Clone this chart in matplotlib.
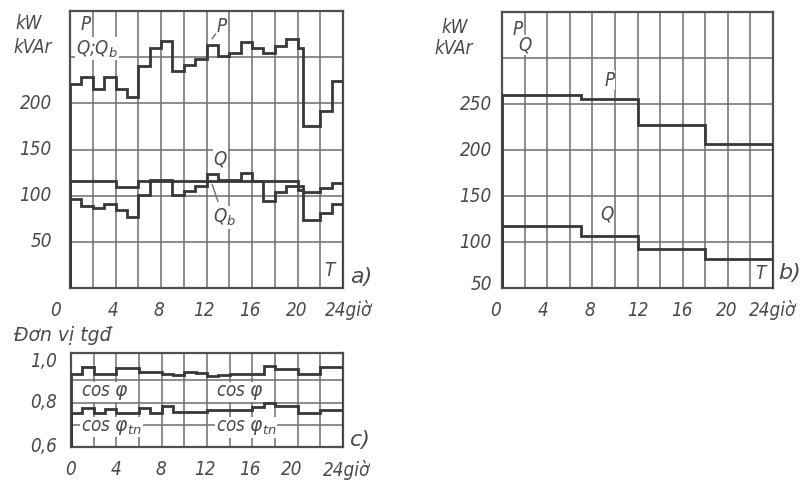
import matplotlib
matplotlib.use("Agg")
import matplotlib.pyplot as plt

# ---- data -------------------------------------------------------------
# a) hourly load of the workshop, with one extra break at 20.5 h
hours_a = [0, 1, 2, 3, 4, 5, 6, 7, 8, 9, 10, 11, 12, 13, 14, 15, 16, 17, 18, 19,
           20, 20.5, 22, 23, 24]
P_a = [221, 228, 215, 228, 215, 207, 240, 260, 267, 235, 242, 248,
       263, 251, 255, 266, 260, 254, 262, 270, 260, 175, 192, 224]
Q_a = [116, 116, 116, 116, 109, 109, 116, 116, 116, 116, 116, 116,
       123, 117, 117, 125, 116, 116, 116, 116, 110, 104, 108, 114]
Qb_a = [96, 89, 87, 91, 85, 77, 101, 117, 117, 101, 105, 110,
        116, 116, 116, 116, 116, 94, 104, 110, 106, 74, 81, 91]

# b) load by shift intervals
hours_b = [0, 7, 12, 18, 24]
P_b = [260, 255, 227, 206]
Q_b = [117, 107, 92, 81]

# c) power factor, hourly
hours_c = list(range(25))
cos_phi = [0.93, 0.96, 0.93, 0.93, 0.955, 0.955, 0.94, 0.94, 0.93, 0.925, 0.94, 0.935,
           0.92, 0.925, 0.93, 0.93, 0.93, 0.965, 0.95, 0.95, 0.93, 0.93, 0.96, 0.96]
cos_phi_tn = [0.755, 0.775, 0.755, 0.77, 0.755, 0.755, 0.775, 0.755, 0.785, 0.76, 0.76, 0.76,
              0.765, 0.765, 0.765, 0.765, 0.78, 0.80, 0.783, 0.783, 0.755, 0.755, 0.768, 0.768]

xlabels = ["0", "4", "8", "12", "16", "20", "24giờ"]

# ---- style ------------------------------------------------------------
plt.rcParams["font.family"] = ["DejaVu Sans"]
plt.rcParams["mathtext.fontset"] = "custom"
plt.rcParams["mathtext.rm"] = "DejaVu Sans:italic"
plt.rcParams["mathtext.it"] = "DejaVu Sans:italic"
TXT = "#4a4a4a"
GRID = "#6e6e6e"
CURVE = "#383838"
FS = 13.5
tk = dict(color=TXT, fontsize=FS, style="italic", stretch="condensed")

W, H = 809, 487
fig = plt.figure(figsize=(W / 100, H / 100), dpi=100)


def box(l, t, r, b):
    return [l / W, 1 - b / H, (r - l) / W, (b - t) / H]


def frame(ax, xgrid, ygrid):
    ax.set_xticks([])
    ax.set_yticks([])
    for x in xgrid:
        ax.axvline(x, color=GRID, lw=1.1, zorder=1)
    for y in ygrid:
        ax.axhline(y, color=GRID, lw=1.1, zorder=1)
    for s in ax.spines.values():
        s.set_color("#505050")
        s.set_linewidth(1.6)


def xlabs(ax, positions, ypix):
    for pos, lab in zip(positions, xlabels):
        ha = "left" if lab.startswith("24") else "center"
        ax.text(pos, ypix, lab, ha=ha, va="center",
                transform=ax.get_xaxis_transform(), **tk)


wb = dict(facecolor="white", edgecolor="none", pad=0.5)

# ---- a) ---------------------------------------------------------------
axa = fig.add_axes(box(70, 11, 343, 288))
axa.set_xlim(0, 24)
axa.set_ylim(0, 300)
frame(axa, range(2, 24, 2), [50, 100, 150, 200, 250])
for series in (P_a, Q_a, Qb_a):
    axa.stairs(series, hours_a, color=CURVE, lw=2.0, zorder=3)
for v in [50, 100, 150, 200]:
    axa.text(-1.6, v, str(v), ha="right", va="center", **tk)
xlabs(axa, [-1.3, 3.8, 7.85, 11.8, 15.8, 19.9, 22.4], -0.08)
axa.text(-3.6, 286, "kW", ha="center", va="center", clip_on=False, **tk)
axa.text(-3.3, 261, "kVAr", ha="center", va="center", clip_on=False, **tk)
axa.text(0.9, 285, "P", ha="left", va="center", bbox=wb, zorder=4, **tk)
axa.text(0.5, 259, r"Q;Q$_b$", ha="left", va="center", bbox=wb, zorder=4, **tk)
axa.text(13.3, 283, "P", ha="center", va="center", zorder=4, **tk)
axa.plot([12.8, 12.5], [275, 270], color=GRID, lw=1, zorder=4)
axa.text(13.2, 140, "Q", ha="center", va="center", bbox=wb, zorder=4, **tk)
axa.text(13.6, 76, r"Q$_b$", ha="center", va="center", bbox=wb, zorder=4, **tk)
axa.plot([13.0, 12.5], [94, 112], color=GRID, lw=1, zorder=4)
axa.text(22.8, 19, "T", ha="center", va="center", bbox=wb, zorder=4, **tk)
axa.text(25.6, 12, "a)", ha="center", va="center", color=TXT, fontsize=16,
         style="italic", clip_on=False)

# ---- b) ---------------------------------------------------------------
axb = fig.add_axes(box(502, 12, 773, 288))
axb.set_xlim(0, 24)
axb.set_ylim(50, 350)
frame(axb, range(2, 24, 2), [100, 150, 200, 250, 300])
for series in (P_b, Q_b):
    axb.stairs(series, hours_b, color=CURVE, lw=2.0, zorder=3)
for v in [50, 100, 150, 200, 250]:
    axb.text(-0.9, v + (4 if v == 50 else 0), str(v), ha="right", va="center", **tk)
xlabs(axb, [-0.6, 3.65, 7.8, 12.0, 15.9, 19.9, 21.9], -0.08)
axb.text(-4.2, 333, "kW", ha="center", va="center", clip_on=False, **tk)
axb.text(-4.3, 310, "kVAr", ha="center", va="center", clip_on=False, **tk)
axb.text(1.4, 331, "P", ha="center", va="center", bbox=wb, zorder=4, **tk)
axb.text(2.0, 314, "Q", ha="center", va="center", bbox=wb, zorder=4, **tk)
axb.text(9.5, 276, "P", ha="center", va="center", bbox=wb, zorder=4, **tk)
axb.text(9.3, 130, "Q", ha="center", va="center", bbox=wb, zorder=4, **tk)
axb.text(22.9, 66, "T", ha="center", va="center", bbox=wb, zorder=4, **tk)
axb.text(25.5, 66, "b)", ha="center", va="center", color=TXT, fontsize=16,
         style="italic", clip_on=False)

# ---- c) ---------------------------------------------------------------
axc = fig.add_axes(box(71, 353, 343, 447))
axc.set_xlim(0, 24)
axc.set_ylim(0.6, 1.024)
frame(axc, range(2, 24, 2), [0.7, 0.8, 0.9])
for series in (cos_phi, cos_phi_tn):
    axc.stairs(series, hours_c, color=CURVE, lw=2.0, zorder=3)
for v, s in [(0.6, "0,6"), (0.8, "0,8"), (0.984, "1,0")]:
    axc.text(-1.2, v, s, ha="right", va="center", **tk)
xlabs(axc, [0.0, 4.0, 7.9, 11.8, 15.8, 19.5, 22.2], -0.24)
axc.text(-5.0, 1.105, "Đơn vị tgđ", ha="left", va="center", clip_on=False,
         color=TXT, fontsize=13.5, style="italic")
axc.text(0.9, 0.848, r"cos $\varphi$", ha="left", va="center", bbox=wb, zorder=4, **tk)
axc.text(12.8, 0.848, r"cos $\varphi$", ha="left", va="center", bbox=wb, zorder=4, **tk)
axc.text(0.9, 0.69, r"cos $\varphi_{tn}$", ha="left", va="center", bbox=wb, zorder=4, **tk)
axc.text(12.8, 0.688, r"cos $\varphi_{tn}$", ha="left", va="center", bbox=wb, zorder=4, **tk)
axc.text(25.5, 0.632, "c)", ha="center", va="center", color=TXT, fontsize=16,
         style="italic", clip_on=False)

fig.savefig("out.png", dpi=100, facecolor="white")
